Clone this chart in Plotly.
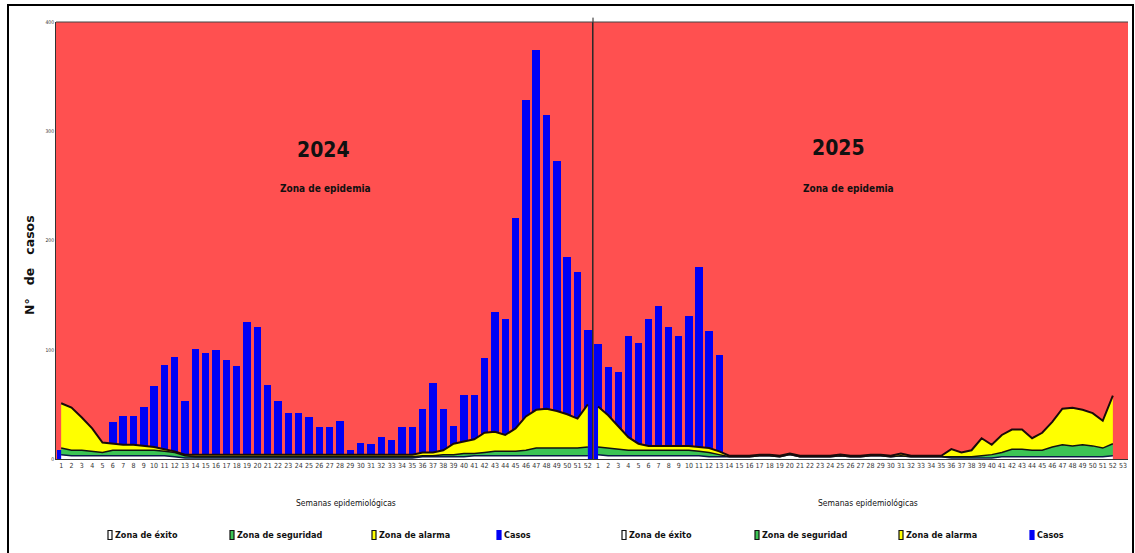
import plotly.graph_objects as go
from plotly.subplots import make_subplots

# ---------------- DATA ----------------
weeks_2024 = list(range(1, 53))
weeks_2025 = list(range(1, 54))
channel_weeks_2025 = list(range(1, 53))
case_weeks_2025 = list(range(1, 14))

casos_2024 = [8, 28, 31, 24, 7, 34, 39, 39, 48, 67, 86, 93, 53, 101, 97, 100, 91, 85, 125, 121,
              68, 53, 42, 42, 38, 29, 29, 35, 8, 15, 14, 20, 17, 29, 29, 46, 70, 46, 30, 59,
              59, 92, 135, 128, 221, 329, 374, 315, 273, 185, 171, 118]
casos_2025 = [105, 84, 80, 113, 106, 128, 140, 121, 113, 131, 176, 117, 95]

# upper limits of each zone of the endemic channel
exito_2024 = [4, 3, 3, 3, 3, 3, 3, 3, 3, 3, 3, 2, 1, 1, 1, 1, 1, 1, 1, 1,
              1, 1, 1, 1, 1, 1, 1, 1, 1, 1, 1, 1, 1, 1, 1, 2, 2, 2, 2, 2,
              3, 3, 3, 3, 3, 3, 3, 3, 3, 3, 3, 3]
seguridad_2024 = [10, 8, 8, 7, 6, 8, 8, 8, 8, 8, 7, 6, 3, 2, 2, 2, 2, 2, 2, 2,
                  2, 2, 2, 2, 2, 2, 2, 2, 2, 2, 2, 2, 2, 2, 2, 3, 3, 4, 4, 5,
                  5, 6, 7, 7, 7, 8, 10, 10, 10, 10, 10, 11]
alarma_2024 = [51, 47, 38, 28, 15, 14, 13, 13, 12, 11, 9, 7, 4, 4, 4, 4, 4, 4, 4, 4,
               4, 4, 4, 4, 4, 4, 4, 4, 4, 4, 4, 4, 4, 4, 4, 6, 6, 8, 14, 16,
               18, 24, 25, 22, 28, 39, 45, 46, 44, 41, 37, 50]

exito_2025 = [4, 3, 3, 3, 3, 3, 3, 3, 3, 3, 3, 2, 2, 2, 2, 2, 3, 3, 2, 4,
              2, 2, 2, 2, 3, 2, 2, 3, 3, 2, 3, 2, 2, 2, 2, 1, 1, 1, 1, 1,
              2, 2, 2, 2, 2, 2, 2, 2, 2, 2, 2, 3]
seguridad_2025 = [11, 10, 9, 8, 8, 8, 8, 8, 8, 8, 7, 6, 4, 2, 2, 2, 3, 3, 2, 4,
                  2, 2, 2, 2, 3, 2, 2, 3, 3, 2, 3, 2, 2, 2, 2, 2, 2, 2, 3, 4,
                  6, 9, 9, 8, 8, 11, 13, 12, 13, 12, 10, 14]
alarma_2025 = [48, 40, 30, 20, 14, 12, 12, 12, 12, 12, 11, 10, 7, 3, 3, 3, 4, 4, 3, 5,
               3, 3, 3, 3, 4, 3, 3, 4, 4, 3, 5, 3, 3, 3, 3, 9, 6, 8, 19, 13,
               22, 27, 27, 19, 24, 34, 46, 47, 45, 42, 35, 58]

y_ticks = [0, 100, 200, 300, 400]

# ---------------- STYLE ----------------
RED = "#FF5050"
GREEN = "#3CC454"
YELLOW = "#FFFF00"
BLUE = "#0000F5"
NAVY = "#0A1A4A"
NARROW = "DejaVu Sans Condensed, Liberation Sans Narrow, Arial Narrow, sans-serif"

fig = make_subplots(rows=1, cols=2, shared_yaxes=True, horizontal_spacing=0,
                    column_widths=[537, 535])


def add_panel(col, cweeks, exito, seg, alarma, bweeks, casos):
    fig.add_trace(go.Scatter(x=cweeks, y=exito, mode="lines", fill="tozeroy",
                             fillcolor="white", line=dict(color=NAVY, width=1.5),
                             showlegend=False, hoverinfo="skip"), row=1, col=col)
    fig.add_trace(go.Scatter(x=cweeks, y=seg, mode="lines", fill="tonexty",
                             fillcolor=GREEN, line=dict(color="#111111", width=1.5),
                             showlegend=False, hoverinfo="skip"), row=1, col=col)
    fig.add_trace(go.Scatter(x=cweeks, y=alarma, mode="lines", fill="tonexty",
                             fillcolor=YELLOW, line=dict(color="#1a0a0a", width=2),
                             showlegend=False, hoverinfo="skip"), row=1, col=col)
    fig.add_trace(go.Bar(x=bweeks, y=casos, width=0.72, marker=dict(color=BLUE, line=dict(width=0)),
                         showlegend=False), row=1, col=col)


add_panel(1, weeks_2024, exito_2024, seguridad_2024, alarma_2024, weeks_2024, casos_2024)
add_panel(2, channel_weeks_2025, exito_2025, seguridad_2025, alarma_2025, case_weeks_2025, casos_2025)

fig.update_xaxes(row=1, col=1, range=[0.5, 52.5], tickmode="array", tickvals=weeks_2024,
                 ticktext=[str(w) for w in weeks_2024])
fig.update_xaxes(row=1, col=2, range=[0.5, 53.5], tickmode="array", tickvals=weeks_2025,
                 ticktext=[str(w) for w in weeks_2025])
fig.update_xaxes(showgrid=False, zeroline=False, ticks="", ticklen=0,
                 tickfont=dict(size=7, color="#333333", family=NARROW), tickangle=0,
                 showline=True, linecolor="#333333", linewidth=1)
fig.update_yaxes(range=[0, 400], tickvals=y_ticks, showgrid=False, zeroline=False,
                 showline=True, linecolor="#333333", linewidth=1, mirror=False,
                 tickfont=dict(size=5, color="#333333", family=NARROW))
fig.update_yaxes(row=1, col=2, showticklabels=False)

fig.update_layout(
    width=1135, height=553,
    margin=dict(l=56, r=7, t=22, b=94),
    paper_bgcolor="white", plot_bgcolor=RED,
    barmode="overlay", bargap=0,
    font=dict(family=NARROW, color="#111111"),
)

ann = []
ann.append(dict(text="<b>N°   de   casos</b>", x=-0.0243, y=0.444, xref="paper", yref="paper",
                xanchor="center", yanchor="middle",
                textangle=-90, showarrow=False, font=dict(size=12.5, family="DejaVu Sans, sans-serif", color="#111")))
for px, txt in [(346, "Semanas epidemiológicas"), (868, "Semanas epidemiológicas")]:
    ann.append(dict(text=txt, x=(px - 56) / 1072, y=(459 - 503) / 437, xref="paper", yref="paper",
                    xanchor="center", yanchor="middle",
                    showarrow=False, font=dict(size=8.5, family=NARROW, color="#111")))
for px, py, txt, size in [(323, 150, "<b>2024</b>", 21), (325, 188, "<b>Zona de epidemia</b>", 10),
                          (838, 148, "<b>2025</b>", 21), (848, 188, "<b>Zona de epidemia</b>", 10)]:
    ann.append(dict(text=txt, x=(px - 56) / 1072, y=(459 - py) / 437, xref="paper", yref="paper",
                    xanchor="center", yanchor="middle",
                    showarrow=False, font=dict(size=size, family=NARROW, color="#111")))

shapes = []
legend_items = [("Zona de éxito", "white"), ("Zona de seguridad", GREEN),
                ("Zona de alarma", YELLOW), ("Casos", BLUE)]
legend_x = [108, 230, 372, 497, 622, 755, 899, 1030]
leg_py = 535
for i, px in enumerate(legend_x):
    name, col = legend_items[i % 4]
    x0 = (px - 56) / 1072
    x1 = (px + 4 - 56) / 1072
    y0 = (459 - (leg_py + 4.5)) / 437
    y1 = (459 - (leg_py - 4.5)) / 437
    shapes.append(dict(type="rect", xref="paper", yref="paper", x0=x0, x1=x1, y0=y0, y1=y1,
                       fillcolor=col, line=dict(color="#111" if col != BLUE else BLUE, width=1.2)))
    ann.append(dict(text="<b>" + name + "</b>", x=(px + 5 - 56) / 1072, y=(459 - leg_py) / 437,
                    xref="paper", yref="paper", xanchor="left", yanchor="middle", showarrow=False,
                    font=dict(size=9, family=NARROW, color="#111")))

# outer frame
shapes.append(dict(type="rect", xref="paper", yref="paper", x0=(8 - 56) / 1072, x1=(1133 - 56) / 1072,
                   y0=-0.3, y1=1 + 17 / 437, line=dict(color="black", width=2), fillcolor="rgba(0,0,0,0)",
                   layer="above"))
# separator between years
shapes.append(dict(type="line", xref="paper", yref="paper", x0=537 / 1072, x1=537 / 1072,
                   y0=0, y1=1.01, line=dict(color="#222", width=1)))
# top border of plot
shapes.append(dict(type="line", xref="paper", yref="paper", x0=0, x1=1, y0=1, y1=1,
                   line=dict(color="#444", width=1)))

fig.update_layout(annotations=ann, shapes=shapes)
fig.write_html("out.html", config={"displayModeBar": False},
               post_script="document.body.style.margin='0px';")
